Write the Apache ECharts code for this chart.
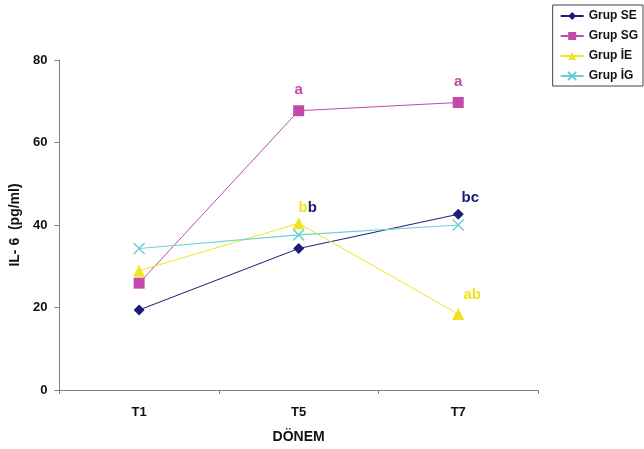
<!DOCTYPE html>
<html><head><meta charset="utf-8">
<script src="https://cdn.jsdelivr.net/npm/echarts@6/dist/echarts.min.js"></script>
<style>html,body{margin:0;padding:0;background:#fff}#c{width:644px;height:449px}</style>
</head><body><div id="c"></div>
<script>
var categories = ['T1', 'T5', 'T7'];
var grupSE = [19.4, 34.3, 42.6];
var grupSG = [25.9, 67.7, 69.7];
var grupIE = [28.9, 40.4, 18.4];
var grupIG = [34.3, 37.6, 40.0];
var yTicks = [0, 20, 40, 60, 80];
var seriesNames = ['Grup SE', 'Grup SG', 'Grup İE', 'Grup İG'];

var cSE = '#1c1c78', cSG = '#c449a8', cIE = '#efe51c', cIG = '#6ccfd6';
var F = 'Liberation Sans, Arial, sans-serif';

function withLabels(arr, labels) {
  return arr.map(function (v, i) {
    if (!labels[i]) return v;
    return { value: v, label: Object.assign({ show: true }, labels[i]) };
  });
}
var lblBase = { fontFamily: F, fontWeight: 'bold', fontSize: 15 };

var chart = echarts.init(document.getElementById('c'));
chart.setOption({
  animation: false,
  backgroundColor: '#fff',
  grid: { left: 58, top: 60, right: 106, bottom: 59, containLabel: false },
  legend: {
    orient: 'vertical', right: 1, top: 5,
    backgroundColor: '#fff', borderColor: '#444', borderWidth: 1, borderRadius: 0,
    padding: [5, 5, 4, 7], itemGap: 8, itemWidth: 23, itemHeight: 10,
    textStyle: { fontFamily: F, fontWeight: 'bold', fontSize: 12, color: '#111' },
    data: seriesNames
  },
  xAxis: {
    type: 'category', data: categories, boundaryGap: true,
    name: 'DÖNEM', nameLocation: 'middle', nameGap: 40,
    nameTextStyle: { fontFamily: F, fontWeight: 'bold', fontSize: 14, color: '#111' },
    axisLine: { lineStyle: { color: '#808080', width: 1 } },
    axisTick: { show: true, inside: false, length: 4, lineStyle: { color: '#808080' } },
    axisLabel: { fontFamily: F, fontWeight: 'bold', fontSize: 13, color: '#111', margin: 16 }
  },
  yAxis: {
    type: 'value', min: yTicks[0], max: yTicks[yTicks.length - 1], interval: 20,
    name: 'IL- 6  (pg/ml)', nameLocation: 'middle', nameGap: 36, nameRotate: 90,
    nameTextStyle: { fontFamily: F, fontWeight: 'bold', fontSize: 14, color: '#111' },
    splitLine: { show: false },
    axisLine: { show: true, lineStyle: { color: '#808080', width: 1 } },
    axisTick: { show: true, inside: false, length: 5, lineStyle: { color: '#808080' } },
    axisLabel: { fontFamily: F, fontWeight: 'bold', fontSize: 13, color: '#111', margin: 12 }
  },
  series: [
    {
      name: seriesNames[0], type: 'line', data: withLabels(grupSE, [null, null,
        Object.assign({ formatter: 'bc', color: cSE, position: 'top', distance: 3, offset: [12, 0] }, lblBase)]),
      symbol: 'diamond', symbolSize: 11, lineStyle: { color: cSE, width: 1 },
      itemStyle: { color: cSE }
    },
    {
      name: seriesNames[1], type: 'line', data: withLabels(grupSG, [null,
        Object.assign({ formatter: 'a', color: cSG, position: 'top', distance: 8 }, lblBase),
        Object.assign({ formatter: 'a', color: cSG, position: 'top', distance: 8 }, lblBase)]),
      symbol: 'rect', symbolSize: 11, lineStyle: { color: cSG, width: 1 },
      itemStyle: { color: cSG }
    },
    {
      name: seriesNames[2], type: 'line', data: withLabels(grupIE, [null,
        Object.assign({ formatter: '{y|b}{n|b}', position: 'top', distance: 2, offset: [9, 0],
          rich: { y: Object.assign({ color: cIE }, lblBase), n: Object.assign({ color: cSE }, lblBase) } }, lblBase),
        Object.assign({ formatter: 'ab', color: cIE, position: 'top', distance: 6, offset: [14, 0] }, lblBase)]),
      symbol: 'triangle', symbolSize: 12, lineStyle: { color: cIE, width: 1 },
      itemStyle: { color: cIE }
    },
    {
      name: seriesNames[3], type: 'line', data: grupIG,
      symbol: 'path://M0,0L10,10M10,0L0,10', symbolSize: 11,
      lineStyle: { color: cIG, width: 1.2 },
      itemStyle: { color: cIG, borderColor: cIG, borderWidth: 1.5 }
    }
  ]
});
</script></body></html>
